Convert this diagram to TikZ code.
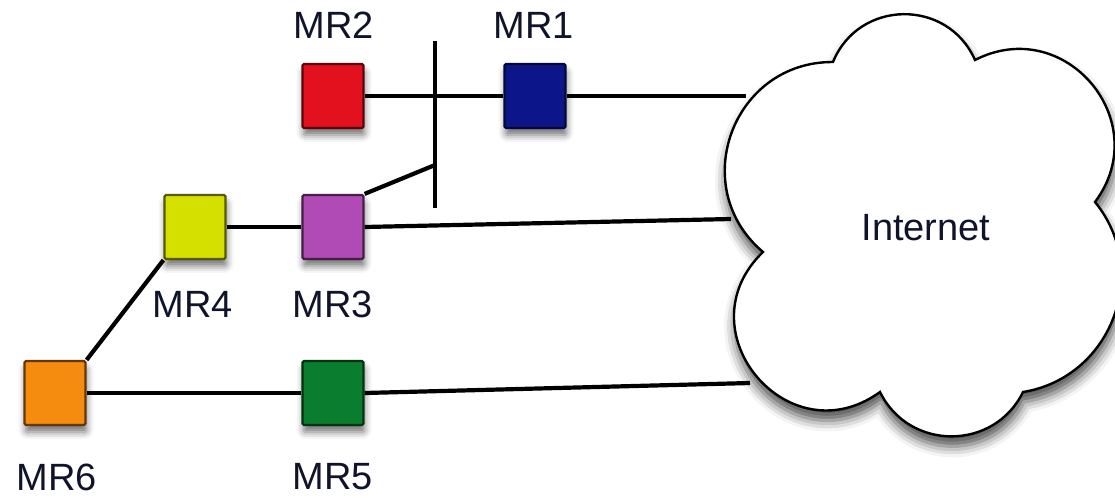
\documentclass[tikz,border=0pt]{standalone}
\usepackage{fontspec}
\setmainfont{Liberation Sans}
\usetikzlibrary{shadows.blur}

\definecolor{mrred}{HTML}{E3101E}
\definecolor{mrblue}{HTML}{0C168A}
\definecolor{mrpurple}{HTML}{B04AB5}
\definecolor{mryellow}{HTML}{D6E000}
\definecolor{mrorange}{HTML}{F58B0F}
\definecolor{mrgreen}{HTML}{0B7D2E}
\definecolor{labelink}{HTML}{10142A}

\begin{document}
\begin{tikzpicture}[x=1pt,y=-1pt,
  router/.style={fill=#1, draw=#1!40!black, line width=2.2pt,
    rounded corners=1.5pt, minimum width=61pt, minimum height=64pt,
    inner sep=0pt,
    blur shadow={shadow xshift=1pt, shadow yshift=-7pt,
      shadow blur radius=7pt, shadow opacity=55}},
  lbl/.style={font=\fontsize{38}{38}\selectfont, text=labelink, inner sep=0pt},
  link/.style={line width=4.2pt, black},
  cloudline/.style={draw=black, line width=2.4pt, fill=white,
    blur shadow={shadow xshift=1pt, shadow yshift=-10pt,
      shadow blur radius=11pt, shadow opacity=70}}]

\useasboundingbox (0,0) rectangle (1115,496);

% the Internet cloud
\draw[cloudline]
  (763,252) to[bend left=70, looseness=1.27] (833,62)
  to[bend left=67, looseness=1.22] (975,60)
  to[bend left=77, looseness=1.39] (1095,202)
  to[bend left=60, looseness=1.13] (1023,392)
  to[bend left=64, looseness=1.18] (880,392)
  to[bend left=86, looseness=1.59] (763,252) -- cycle;
\node[lbl] (inet) at (926,228) {Internet};

% points where the uplinks meet the cloud
\coordinate (c1) at (746,96);
\coordinate (c3) at (731,219);
\coordinate (c5) at (750,383);

% the shared bar between MR2 and MR1
\coordinate (bartop) at (435,41);
\coordinate (barbot) at (435,208);
\coordinate (barjoin) at (435,165);

% mesh routers
\node[router=mrred]    (mr2) at (333,96)  {};
\node[router=mrblue]   (mr1) at (535,96)  {};
\node[router=mryellow] (mr4) at (195,227) {};
\node[router=mrpurple] (mr3) at (333,227) {};
\node[router=mrorange] (mr6) at (55,393)  {};
\node[router=mrgreen]  (mr5) at (333,393) {};

% labels
\node[lbl] (l2) at (334,25)  {MR2};
\node[lbl] (l1) at (534,25)  {MR1};
\node[lbl] (l4) at (193,304) {MR4};
\node[lbl] (l3) at (333,304) {MR3};
\node[lbl] (l6) at (57,477)  {MR6};
\node[lbl] (l5) at (333,477) {MR5};

% links
\draw[link] (bartop) -- (barbot);
\draw[link] (mr2.east) -- (mr1.west);
\draw[link] (mr1.east) -- (c1);
\draw[link] (mr4.east) -- (mr3.west);
\draw[link] (mr3.east) -- (c3);
\draw[link] (mr3.north east) -- (barjoin);
\draw[link] (mr6.north east) -- (mr4.south west);
\draw[link] (mr6.east) -- (mr5.west);
\draw[link] (mr5.east) -- (c5);
\end{tikzpicture}
\end{document}
